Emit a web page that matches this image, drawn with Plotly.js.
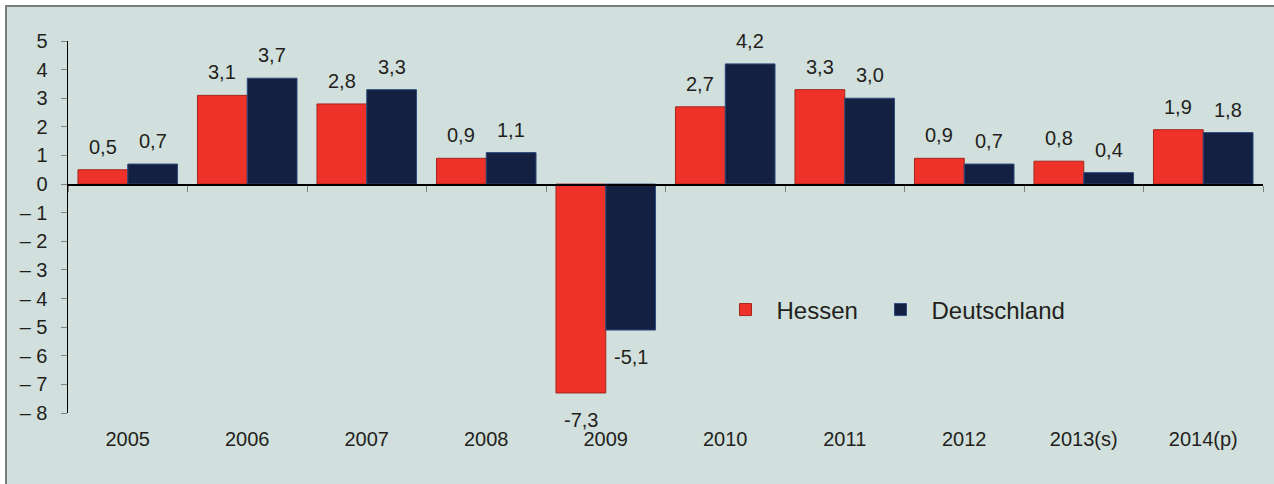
<!DOCTYPE html>
<html>
<head>
<meta charset="utf-8">
<script src="https://cdn.plot.ly/plotly-3.0.1.min.js"></script>
<style>
  html, body { margin: 0; padding: 0; background: #ffffff; width: 1274px; height: 484px; overflow: hidden; }
  #frame { position: absolute; left: 5px; top: 5px; width: 1269px; height: 479px; box-sizing: border-box;
           background: #d1e0dc; border-left: 2px solid #7c7c7c; border-top: 2px solid #7c7c7c; }
  #chart { position: absolute; left: 0; top: 0; width: 1274px; height: 484px; }
</style>
</head>
<body>
<div id="frame"></div>
<div id="chart"></div>
<script>
// ---- data ----
const categories = ['2005', '2006', '2007', '2008', '2009', '2010', '2011', '2012', '2013(s)', '2014(p)'];
const hessen      = [0.5, 3.1, 2.8, 0.9, -7.3, 2.7, 3.3, 0.9, 0.8, 1.9];
const deutschland = [0.7, 3.7, 3.3, 1.1, -5.1, 4.2, 3.0, 0.7, 0.4, 1.8];
const seriesNames = ['Hessen', 'Deutschland'];
const yTickVals   = [5, 4, 3, 2, 1, 0, -1, -2, -3, -4, -5, -6, -7, -8];
const yTickText   = ['5', '4', '3', '2', '1', '0', '\u2013 1', '\u2013 2', '\u2013 3', '\u2013 4', '\u2013 5', '\u2013 6', '\u2013 7', '\u2013 8'];

// ---- style ----
const FONT = 'Liberation Sans, Arial, sans-serif';
const TXT = '#231f20';
const RED = '#ee3129', RED_LINE = '#a3271f';
const NAVY = '#132042', NAVY_LINE = '#2d4b7e';
const W = 1274, H = 484;
const margin = { l: 68, r: 11, t: 41, b: 71, pad: 0 };
const bargap = 0.167;

const fmt = v => v.toFixed(1).replace('.', ',');

const traces = [
  { type: 'bar', name: seriesNames[0], x: categories, y: hessen, legend: 'legend',
    marker: { color: RED, line: { color: RED_LINE, width: 1 } }, hoverinfo: 'x+y' },
  { type: 'bar', name: seriesNames[1], x: categories, y: deutschland, legend: 'legend2',
    marker: { color: NAVY, line: { color: NAVY_LINE, width: 1 } }, hoverinfo: 'x+y' },
  { type: 'scatter', x: [], y: [], xaxis: 'x2', showlegend: false, hoverinfo: 'skip' }
];

// label annotations placed over each bar via category index + group offset
const plotW = W - margin.l - margin.r;
const barW = plotW / categories.length * (1 - bargap) / 2;
const annotations = [];
[hessen, deutschland].forEach((arr, si) => {
  const xs = (si === 0 ? -1 : 1) * barW / 2;
  arr.forEach((v, i) => {
    annotations.push({
      x: i, y: v, xref: 'x', yref: 'y', text: fmt(v), showarrow: false,
      xshift: xs, yshift: v >= 0 ? 10 : -14,
      yanchor: v >= 0 ? 'bottom' : 'top', xanchor: 'center',
      font: { family: FONT, size: 20, color: TXT }
    });
  });
});

const legendBase = { orientation: 'h', y: 0.277, xanchor: 'left', yanchor: 'middle',
                     bgcolor: 'rgba(0,0,0,0)', borderwidth: 0, itemwidth: 52,
                     font: { family: FONT, size: 24, color: TXT } };

const layout = {
  width: W, height: H,
  margin: margin,
  paper_bgcolor: 'rgba(0,0,0,0)', plot_bgcolor: 'rgba(0,0,0,0)',
  font: { family: FONT, size: 20, color: TXT },
  barmode: 'group', bargap: bargap, bargroupgap: 0,
  showlegend: true,
  legend: Object.assign({}, legendBase, { x: 0.541 }),
  legend2: Object.assign({}, legendBase, { x: 0.541 + 155 / plotW }),
  xaxis: { type: 'category', range: [-0.5, categories.length - 0.5], showline: false, ticks: '',
           showgrid: false, zeroline: false, ticklabelstandoff: 12,
           tickfont: { family: FONT, size: 20, color: TXT } },
  xaxis2: { overlaying: 'x', anchor: 'free', position: 8 / 13, range: [-0.5, categories.length - 0.5],
            showline: true, linecolor: '#000000', linewidth: 1.5, ticks: 'outside', ticklen: 6,
            tickcolor: '#808080', tickwidth: 1, tick0: -0.5, dtick: 1, showticklabels: false,
            showgrid: false, zeroline: false },
  yaxis: { range: [-8, 5], tickvals: yTickVals, ticktext: yTickText, showline: true,
           linecolor: '#000000', linewidth: 1.5, ticks: 'outside', ticklen: 6, tickcolor: '#808080',
           tickwidth: 1, showgrid: false, zeroline: false, ticklabelstandoff: 9,
           tickfont: { family: FONT, size: 20, color: TXT } },
  annotations: annotations
};

Plotly.newPlot('chart', traces, layout, { displayModeBar: false, staticPlot: true });
</script>
</body>
</html>
